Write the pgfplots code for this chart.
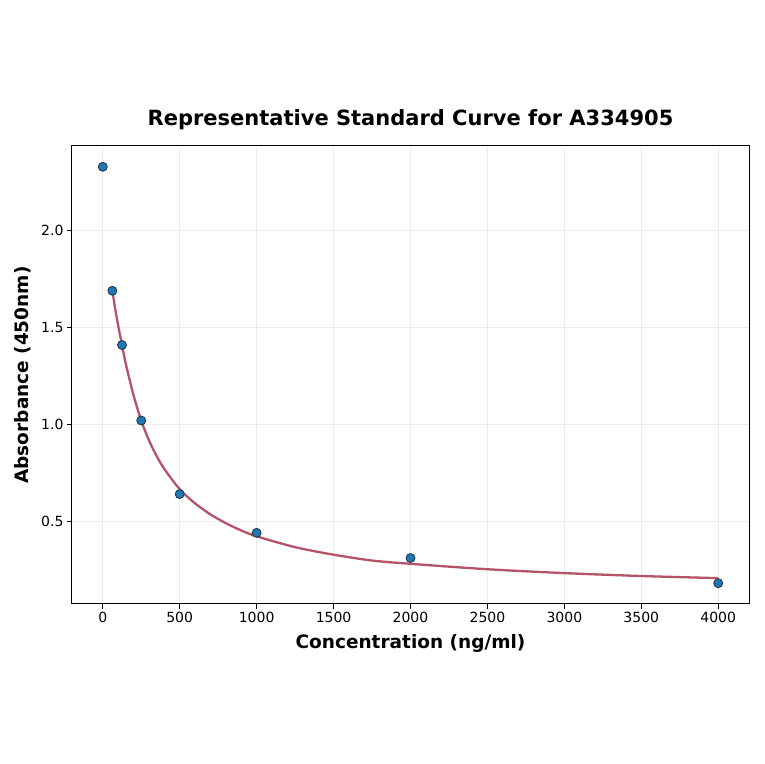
\documentclass[border=0pt]{standalone}
\usepackage{pgfplots}
\pgfplotsset{compat=1.18}
\usepackage{fontspec}
\setmainfont{DejaVu Sans}

\definecolor{fitred}{RGB}{181,84,104}
\definecolor{ptblue}{RGB}{31,119,180}
\definecolor{ptedge}{RGB}{30,50,70}

\begin{document}
\begin{tikzpicture}
\path[fill=white] (0pt,0pt) rectangle (764pt,764pt);
\begin{axis}[
  at={(72pt,160pt)}, anchor=south west,
  scale only axis, width=677pt, height=458pt,
  xmin=-200, xmax=4200, ymin=0.0725, ymax=2.4375,
  xtick={0,500,...,4000},
  ytick={0.5,1.0,1.5,2.0},
  yticklabel style={/pgf/number format/.cd,fixed,fixed zerofill,precision=1},
  scaled x ticks=false,
  /pgf/number format/assume math mode=true,
  /pgf/number format/1000 sep={},
  tick align=outside, tick pos=left,
  major tick length=5pt,
  every tick/.style={black, line width=0.8pt},
  axis line style={line width=1pt},
  grid=major,
  grid style={gray!15, line width=0.6pt},
  ticklabel style={font=\fontsize{14}{16}\selectfont},
  xlabel={\textbf{Concentration (ng/ml)}},
  ylabel={\textbf{Absorbance (450nm)}},
  label style={font=\fontsize{18.5}{22}\selectfont},
  xlabel style={yshift=-4pt},
  ylabel style={yshift=3pt},
  title={\textbf{Representative Standard Curve for A334905}},
  title style={font=\fontsize{21}{24}\selectfont, yshift=7pt},
]
\addplot[fitred, line width=2.3pt, smooth] coordinates {
  (62.5,1.69) (80,1.60) (100,1.51) (125,1.41) (150,1.31) (175,1.23)
  (200,1.15) (250,1.02) (300,0.918) (350,0.837) (400,0.77) (500,0.665)
  (600,0.592) (700,0.535) (800,0.49) (900,0.452) (1000,0.422) (1250,0.366)
  (1500,0.327) (1750,0.297) (2000,0.280) (2500,0.252) (3000,0.232)
  (3500,0.217) (4000,0.206)
};
\addplot[only marks, mark=*, mark size=4.5pt,
  mark options={fill=ptblue, draw=ptedge, line width=0.8pt}] coordinates {
  (0,2.33) (62.5,1.69) (125,1.41) (250,1.02) (500,0.64)
  (1000,0.44) (2000,0.31) (4000,0.18)
};
\end{axis}
\end{tikzpicture}
\end{document}
